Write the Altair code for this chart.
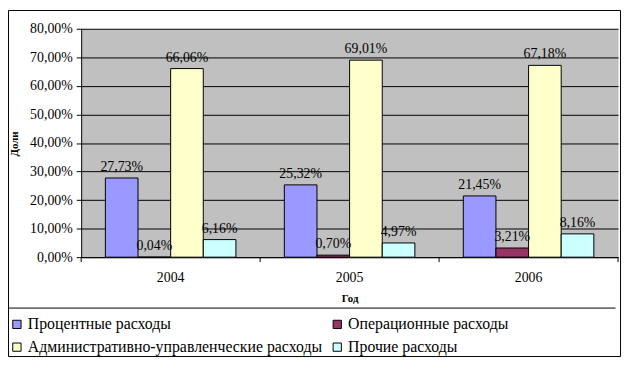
import altair as alt
import pandas as pd

years = ["2004", "2005", "2006"]
series = ["Процентные расходы", "Операционные расходы",
          "Административно-управленческие расходы", "Прочие расходы"]
v_proc = [27.73, 25.32, 21.45]
v_oper = [0.04, 0.70, 3.21]
v_adm = [66.06, 69.01, 67.18]
v_other = [6.16, 4.97, 8.16]
colors = ["#9999FF", "#993366", "#FFFFCC", "#CCFFFF"]
y_ticks = [0, 0.1, 0.2, 0.3, 0.4, 0.5, 0.6, 0.7, 0.8]

rows = []
for s, vals in zip(series, [v_proc, v_oper, v_adm, v_other]):
    for yr, v in zip(years, vals):
        rows.append({"year": yr, "series": s, "value": v / 100})
df = pd.DataFrame(rows)

FONT = "'Liberation Serif', 'Times New Roman', serif"

x = alt.X("year:N", sort=years,
          scale=alt.Scale(paddingInner=0, paddingOuter=0),
          axis=alt.Axis(title="Год", ticks=False, domainColor="black", domainWidth=1,
                        labelFont=FONT, labelFontSize=14, labelColor="black",
                        labelAngle=0, labelPadding=14, grid=False,
                        titleFont=FONT, titleFontSize=11, titleFontWeight="bold",
                        titleColor="black", titlePadding=8))
xo = alt.XOffset("series:N", sort=series,
                 scale=alt.Scale(domain=series, paddingInner=0, paddingOuter=0.742))
y = alt.Y("value:Q", scale=alt.Scale(domain=[0, 0.8], nice=False),
          axis=alt.Axis(title="Доли", values=y_ticks,
                        labelExpr="replace(format(datum.value, '.2%'), '.', ',')",
                        labelFont=FONT, labelFontSize=14, labelColor="black",
                        labelPadding=4, tickSize=5, tickColor="black",
                        domainColor="black", gridColor="black", gridWidth=1,
                        gridOpacity=1,
                        titleFont=FONT, titleFontSize=11, titleFontWeight="bold",
                        titleColor="black", titleX=-67, titleY=116,
                        titleAngle=270, titleAlign="center", titleBaseline="middle"))
color = alt.Color("series:N", sort=series,
                  scale=alt.Scale(domain=series, range=colors),
                  legend=alt.Legend(title=None, orient="none", legendX=-73, legendY=291,
                                    columns=2, direction="horizontal",
                                    symbolType="square", symbolSize=70,
                                    symbolStrokeColor="black", symbolStrokeWidth=1,
                                    labelFont=FONT, labelFontSize=16, labelColor="black",
                                    labelOffset=3, rowPadding=7, columnPadding=6,
                                    labelLimit=400))

base = alt.Chart(df)
bars = base.mark_bar(stroke="black", strokeWidth=1).encode(
    x=x, xOffset=xo, y=y, color=color)
labels = base.transform_calculate(
    lbl="replace(format(datum.value, '.2%'), '.', ',')"
).mark_text(font=FONT, fontSize=14, color="black", baseline="alphabetic", dy=-7).encode(
    x=x, xOffset=xo, y=y, text="lbl:N")

ydf = pd.DataFrame({"year": years})
ticks0 = alt.Chart(ydf).mark_rule(color="black", strokeWidth=1).encode(
    x=alt.X("year:N", sort=years, bandPosition=0),
    y=alt.value(231), y2=alt.value(236))
ticks1 = alt.Chart(ydf).transform_filter("datum.year == '2006'").mark_rule(
    color="black", strokeWidth=1).encode(
    x=alt.X("year:N", sort=years, bandPosition=1),
    y=alt.value(231), y2=alt.value(236))

one = pd.DataFrame({"k": [0]})
frame = alt.Chart(one).mark_rect(fill="transparent", stroke="black", strokeWidth=1).encode(
    x=alt.value(-73.5), x2=alt.value(545.5), y=alt.value(-18.5), y2=alt.value(331.5))
sep = alt.Chart(one).mark_rule(color="black", strokeWidth=1).encode(
    x=alt.value(-73.5), x2=alt.value(540.5), y=alt.value(282.5))

chart = alt.layer(frame, sep, bars, labels, ticks0, ticks1).properties(
    width=543, height=231,
    padding={"left": 74, "top": 19, "right": 4, "bottom": 102},
    autosize="none",
    background="white",
).configure_view(fill="#C0C0C0", stroke="transparent")

chart.save("out.html", embed_options={"renderer": "svg", "actions": False})
